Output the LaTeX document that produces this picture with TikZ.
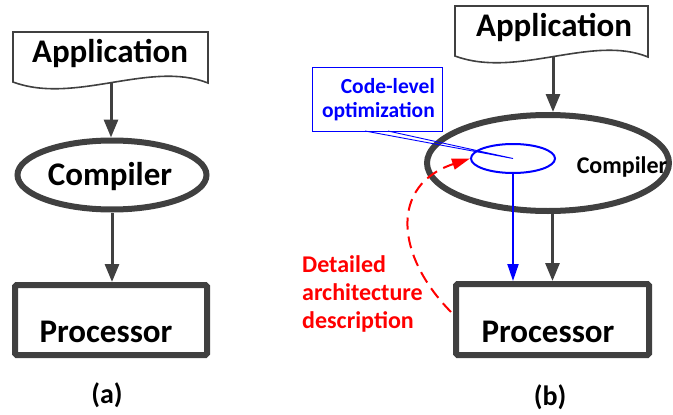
\documentclass[tikz,border=0pt]{standalone}
\usepackage{fontspec}
\setmainfont{Carlito}
\usetikzlibrary{arrows.meta,shapes.geometric}
\definecolor{ink}{HTML}{404040}
\definecolor{codeblue}{HTML}{0000FF}
\definecolor{archred}{HTML}{FF0000}

\begin{document}
\begin{tikzpicture}[x=1pt,y=-1pt,
  big/.style={font=\bfseries\fontsize{33}{37}\selectfont, inner sep=0pt},
  flow/.style={draw=ink, line width=3pt, -{Triangle[width=14pt,length=18pt]}},
  doc/.style={draw=ink, line width=1.6pt, fill=white},
  cpu/.style={draw=ink, line width=6pt, rectangle, rounded corners=1.5pt,
              minimum width=192pt, minimum height=70pt, inner sep=0pt},
  comp/.style={draw=ink, line width=6pt, ellipse, inner sep=0pt},
  caption/.style={font=\bfseries\fontsize{28}{32}\selectfont, inner sep=0pt, anchor=base},
  redtext/.style={font=\bfseries\fontsize{24}{28}\selectfont, text=archred, inner sep=0pt,
                  anchor=base west},
  bluetext/.style={font=\bfseries\fontsize{21.5}{24}\selectfont, text=codeblue, inner sep=0pt,
                   anchor=base east},
]
\useasboundingbox (0,0) rectangle (673,415);

% ---------------- (a) plain flow ----------------
\draw[doc] (13,32) -- (208,32) -- (208,83)
  .. controls (150,60) and (75,105) .. (13,82) -- cycle;
\node[big, anchor=base] (appA) at (110,63) {Application};
\coordinate (appAfoot) at (111,82.5);

\node[comp, minimum width=189pt, minimum height=69pt] (compA) at (112,175) {};
\node[big, anchor=base] (compAtext) at (110,185) {Compiler};

\node[cpu] (proA) at (111,320) {};
\node[big, anchor=base] (proAtext) at (106,342) {Processor};

\draw[flow] (appAfoot) -- (appAfoot |- compA.north);
\draw[flow] (compA.south) -- (compA.south |- proA.north);

\node[caption] (capA) at (107,403) {(a)};

% ---------------- (b) with code-level optimization ----------------
\begin{scope}[shift={(442,-26)}]
  \draw[doc] (13,32) -- (206,32) -- (206,83)
    .. controls (150,60) and (75,105) .. (13,82) -- cycle;
\end{scope}
\node[big, anchor=base] (appB) at (554,36) {Application};
\coordinate (appBfoot) at (553,57);

\node[comp, minimum width=242pt, minimum height=96pt] (compB) at (548,163) {};
\node[font=\bfseries\fontsize{24}{28}\selectfont, inner sep=0pt, anchor=base]
  (compBtext) at (622,173) {Compiler};

\node[cpu, minimum width=193pt, minimum height=71pt] (proB) at (552.5,319.5) {};
\node[big, anchor=base] (proBtext) at (548,342) {Processor};

\draw[flow] (appBfoot) -- (appBfoot |- compB.north);
\draw[flow] (compB.south -| proB.north) -- (proB.north);

% inner optimization region
\node[draw=codeblue, line width=2pt, ellipse, minimum width=84pt, minimum height=29pt,
      inner sep=0pt] (opt) at (513,158.5) {};
\draw[codeblue, line width=2pt, -{Triangle[width=11pt,length=17pt]}]
  (opt.south) -- (opt.south |- proB.north);

% callout box
\node[draw=codeblue, line width=1pt, rectangle, minimum width=130pt, minimum height=64pt,
      inner sep=0pt] (clbox) at (377,99) {};
\node[bluetext] (cl1) at (435,93) {Code-level};
\node[bluetext] (cl2) at (435,117) {optimization};
\coordinate (wedgeL) at (365,131);
\coordinate (wedgeR) at (388,131);
\draw[codeblue, line width=0.9pt] (wedgeL) -- (opt.center) -- (wedgeR);

% architecture description feedback
\coordinate (redstart) at (451,312);
\draw[archred, line width=2pt, dash pattern=on 12pt off 7pt,
      -{Triangle[width=11pt,length=18pt]}]
  (redstart) .. controls (395,255) and (390,185) .. (opt.west);
\node[redtext] (d1) at (302,272) {Detailed};
\node[redtext] (d2) at (302,300) {architecture};
\node[redtext] (d3) at (302,328) {description};

\node[caption] (capB) at (550,405) {(b)};
\end{tikzpicture}
\end{document}
